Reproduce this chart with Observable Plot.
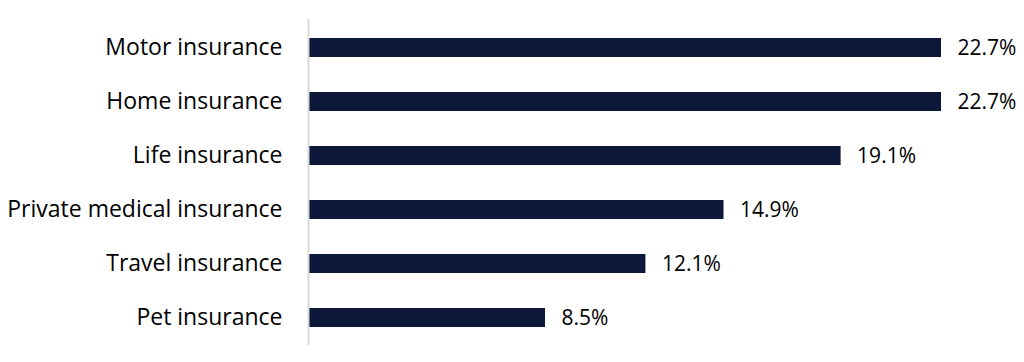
<!DOCTYPE html>
<html>
<head>
<meta charset="utf-8">
<script src="https://cdn.jsdelivr.net/npm/d3@7"></script>
<script src="https://cdn.jsdelivr.net/npm/@observablehq/plot@0.6"></script>
<style>
  html, body { margin: 0; padding: 0; background: #fff; }
</style>
</head>
<body>
<div id="chart"></div>
<script>
const categories = ["Motor insurance", "Home insurance", "Life insurance", "Private medical insurance", "Travel insurance", "Pet insurance"];
const values = [22.7, 22.7, 19.1, 14.9, 12.1, 8.5];
const valueLabels = ["22.7%", "22.7%", "19.1%", "14.9%", "12.1%", "8.5%"];

const data = categories.map((c, i) => ({category: c, value: values[i], label: valueLabels[i]}));

const chart = Plot.plot({
  width: 1024,
  height: 362,
  marginLeft: 308,
  marginRight: 83,
  marginTop: 19,
  marginBottom: 17,
  style: {fontFamily: "'Open Sans', sans-serif", color: "#000", background: "#fff"},
  x: {domain: [0, 22.7], axis: null},
  y: {domain: categories, paddingInner: 0.65, paddingOuter: 0.325, label: null},
  marks: [
    Plot.barX(data, {x: "value", y: "category", fill: "#0c1739"}),
    Plot.ruleX([0], {stroke: "#d9d9d9", strokeWidth: 2}),
    Plot.text(data, {x: "value", y: "category", text: "label", textAnchor: "start", dx: 16, fontSize: 21, fill: "#000"}),
    Plot.axisY({tickSize: 0, tickPadding: 26, fontSize: 23, fill: "#000"})
  ]
});
document.getElementById("chart").appendChild(chart);
</script>
</body>
</html>
